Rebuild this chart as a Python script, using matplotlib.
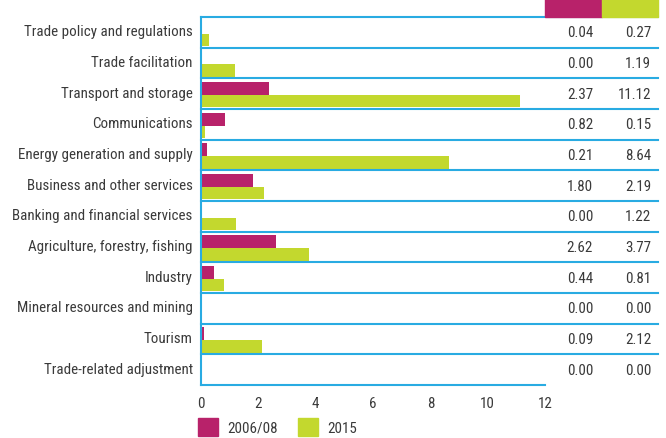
import numpy as np
import matplotlib.pyplot as plt
from matplotlib import font_manager as fm
from matplotlib.patches import Rectangle

# pick a narrow face if one is around
names = {f.name for f in fm.fontManager.ttflist}
condensed = [f.name for f in fm.fontManager.ttflist if f.stretch in ('condensed', 'semi-condensed')]
if 'Liberation Sans Narrow' in names:
    fam, stretch, fs = 'Liberation Sans Narrow', 'normal', 10.8
elif 'Roboto Condensed' in names:
    fam, stretch, fs = 'Roboto Condensed', 'normal', 10.8
elif 'DejaVu Sans' in condensed:
    fam, stretch, fs = 'DejaVu Sans', 'condensed', 9.5
else:
    fam, stretch, fs = 'Liberation Sans', 'normal', 8.8
plt.rcParams['font.family'] = [fam, 'DejaVu Sans']
plt.rcParams['font.stretch'] = stretch

categories = ['Trade policy and regulations', 'Trade facilitation', 'Transport and storage',
              'Communications', 'Energy generation and supply', 'Business and other services',
              'Banking and financial services', 'Agriculture, forestry, fishing', 'Industry',
              'Mineral resources and mining', 'Tourism', 'Trade-related adjustment']
v2006 = [0.04, 0.00, 2.37, 0.82, 0.21, 1.80, 0.00, 2.62, 0.44, 0.00, 0.09, 0.00]
v2015 = [0.27, 1.19, 11.12, 0.15, 8.64, 2.19, 1.22, 3.77, 0.81, 0.00, 2.12, 0.00]
series_names = ['2006/08', '2015']
xticks = [0, 2, 4, 6, 8, 10, 12]

magenta = '#b8226a'
green = '#c3d82e'
blue = '#29abe2'
txt = '#3a3a3a'

W, H = 666, 439
fig = plt.figure(figsize=(W / 100, H / 100), dpi=100)
ax = fig.add_axes([201 / W, 1 - 386 / H, 344 / W, 368 / H])

n = len(categories)
y = np.arange(n)
ax.barh(y + 0.33, v2006, height=0.42, color=magenta)
ax.barh(y + 0.745, v2015, height=0.41, color=green)

ax.set_xlim(0, 12)
ax.set_ylim(n, 0)
ax.set_xticks(xticks)
ax.set_xticklabels([str(t) for t in xticks], fontsize=fs, color=txt)
ax.tick_params(axis='x', length=0, pad=8)
ax.set_yticks(y + 0.42)
ax.set_yticklabels(categories, fontsize=fs, color=txt)
ax.tick_params(axis='y', length=0, pad=6)

for s in ['top', 'right']:
    ax.spines[s].set_visible(False)
for s in ['left', 'bottom']:
    ax.spines[s].set_color(blue)
    ax.spines[s].set_linewidth(1.5)

# row separators, extended into the value table
tr = ax.get_yaxis_transform()
for i in range(n):
    ax.plot([0, 457 / 344], [i, i], color=blue, lw=1.5, transform=tr, clip_on=False)

# value table
for i in range(n):
    ax.text(392 / 344, i + 0.5, f'{v2006[i]:.2f}', transform=tr, ha='right', va='center',
            fontsize=fs, color=txt)
    ax.text(450 / 344, i + 0.5, f'{v2015[i]:.2f}', transform=tr, ha='right', va='center',
            fontsize=fs, color=txt)

# header boxes
fig.patches.append(Rectangle((545 / W, 1 - 18 / H), 57 / W, 18 / H, color=magenta,
                             transform=fig.transFigure))
fig.patches.append(Rectangle((602 / W, 1 - 18 / H), 56 / W, 18 / H, color=green,
                             transform=fig.transFigure))

# legend
for k, (c, name) in enumerate(zip([magenta, green], series_names)):
    x0 = 198 + k * 100
    fig.patches.append(Rectangle((x0 / W, 1 - 437 / H), 20 / W, 18 / H, color=c,
                                 transform=fig.transFigure))
    fig.text((x0 + 29) / W, 1 - 429 / H, name, fontsize=fs, color=txt, va='center')

fig.savefig('out.png', dpi=100)
